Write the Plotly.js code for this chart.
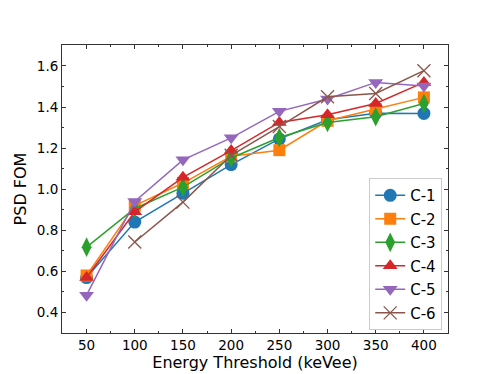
<!DOCTYPE html>
<html>
<head>
<meta charset="utf-8">
<script src="https://cdn.plot.ly/plotly-3.0.1.min.js"></script>
<style>
  body { margin: 0; background: #fff; }
  #plot { width: 498px; height: 374px; }
</style>
</head>
<body>
<div id="plot"></div>
<script>
// energy thresholds (keVee)
const thresholds = [50, 100, 150, 200, 250, 300, 350, 400];
const thresholdsC6 = [100, 150, 200, 250, 300, 350, 400];

// PSD figure of merit per crystal
const c1 = [0.57, 0.84, 0.98, 1.12, 1.245, 1.338, 1.37, 1.369];
const c2 = [0.58, 0.92, 1.03, 1.16, 1.19, 1.333, 1.39, 1.447];
const c3 = [0.718, 0.906, 1.01, 1.152, 1.252, 1.325, 1.353, 1.417];
const c4 = [0.57, 0.89, 1.058, 1.188, 1.325, 1.362, 1.417, 1.52];
const c5 = [0.484, 0.94, 1.143, 1.25, 1.379, 1.439, 1.52, 1.503];
const c6 = [0.743, 0.937, 1.165, 1.305, 1.45, 1.466, 1.577];

const names = ['C-1', 'C-2', 'C-3', 'C-4', 'C-5', 'C-6'];
const colors = ['#1f77b4', '#ff7f0e', '#2ca02c', '#d62728', '#9467bd', '#8c564b'];
const symbols = ['circle', 'square', 'diamond-tall', 'triangle-up', 'triangle-down', 'x-thin'];
const sizes = [13, 12, 14, 13, 13, 13];

const xs = [thresholds, thresholds, thresholds, thresholds, thresholds, thresholdsC6];
const ys = [c1, c2, c3, c4, c5, c6];

const data = names.map((n, i) => ({
  x: xs[i], y: ys[i], name: n, legendgroup: n,
  mode: 'lines+markers',
  line: { color: colors[i], width: 1.5 },
  marker: {
    symbol: symbols[i], size: sizes[i], color: colors[i],
    line: { color: colors[i], width: i === 5 ? 1.3 : 0 }
  }
}));

const axisCommon = {
  showline: true, linecolor: '#333', linewidth: 1, mirror: 'allticks',
  ticks: 'inside', ticklen: 4, tickcolor: '#333',
  showgrid: false, zeroline: false,
  tickfont: { size: 13.5, color: '#000' }
};

const layout = {
  width: 498, height: 374,
  margin: { l: 62, r: 50, t: 45, b: 41 },
  paper_bgcolor: '#fff', plot_bgcolor: '#fff',
  font: { family: 'DejaVu Sans', color: '#000' },
  showlegend: true,
  legend: {
    x: 0.985, y: 0.01, xanchor: 'right', yanchor: 'bottom',
    bordercolor: '#ccc', borderwidth: 1, bgcolor: 'rgba(255,255,255,0.8)',
    font: { size: 15 }, itemsizing: 'trace', tracegroupgap: 1
  },
  xaxis: Object.assign({}, axisCommon, {
    range: [24.5, 425], tickvals: thresholds,
    minor: { dtick: 25, tick0: 25, ticks: 'inside', ticklen: 2, tickcolor: '#333' },
    title: { text: 'Energy Threshold (keVee)', font: { size: 16 }, standoff: 4 }
  }),
  yaxis: Object.assign({}, axisCommon, {
    range: [0.3, 1.702], dtick: 0.2, tick0: 0.4, tickformat: '.1f',
    minor: { dtick: 0.1, ticks: 'inside', ticklen: 2, tickcolor: '#333' },
    title: { text: 'PSD FOM', font: { size: 16 }, standoff: 6 }
  })
};

Plotly.newPlot('plot', data, layout, { displayModeBar: false });
</script>
</body>
</html>
